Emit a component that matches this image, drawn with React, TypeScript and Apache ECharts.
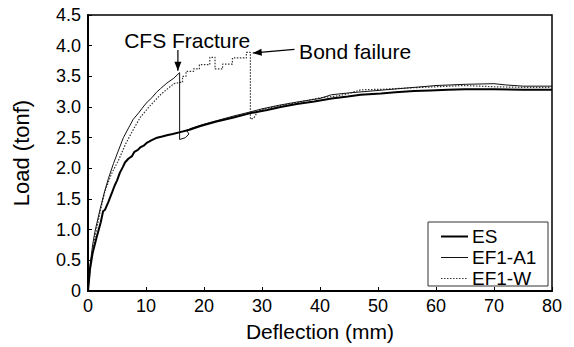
import React, { useEffect, useRef } from "react";
import * as echarts from "echarts";

// Deflection (mm), Load (tonf)
const esData: [number, number][] = [
  [0, 0], [0.35, 0.36], [0.8, 0.62], [1.5, 0.88], [2.2, 1.12], [2.6, 1.3], [2.9, 1.32], [3.5, 1.45],
  [4.2, 1.62], [4.6, 1.72], [5.0, 1.8], [5.5, 1.93], [6.0, 2.02], [6.4, 2.1], [7.0, 2.16],
  [7.6, 2.2], [8.0, 2.27], [8.6, 2.3], [9.0, 2.34], [9.6, 2.37], [10.2, 2.42], [11.0, 2.46],
  [11.9, 2.5], [12.8, 2.52], [13.6, 2.54], [14.6, 2.56], [15.9, 2.59], [17.5, 2.63],
  [19.4, 2.69], [22, 2.76], [25.1, 2.83], [28, 2.9], [30.9, 2.95], [33.2, 3.0], [36, 3.05],
  [39, 3.09], [42, 3.14], [44.8, 3.17], [47, 3.2], [50.5, 3.22], [53, 3.24], [56.2, 3.26],
  [59, 3.27], [62, 3.28], [65, 3.29], [70, 3.29], [75, 3.28], [80, 3.28],
];

const a1Data: [number, number][] = [
  [0, 0], [0.35, 0.42], [0.8, 0.75], [1.2, 0.97], [2.1, 1.34], [2.8, 1.6], [3.5, 1.83],
  [4.4, 2.08], [5.2, 2.28], [6.1, 2.5], [7.0, 2.66], [7.8, 2.8], [8.7, 2.9], [9.5, 3.0],
  [10.2, 3.08], [11.0, 3.15], [11.8, 3.24], [12.5, 3.3], [13.6, 3.39], [14.8, 3.47],
  [15.8, 3.56], [15.8, 2.47], [16.8, 2.5], [17.4, 2.56], [17.0, 2.62], [18.0, 2.66],
  [20, 2.72], [25, 2.85], [28, 2.92], [30, 2.97], [33, 3.03], [36, 3.08], [40, 3.14],
  [42, 3.2], [45, 3.23], [50, 3.27], [55, 3.31], [60, 3.35], [65, 3.37], [70, 3.38],
  [72, 3.36], [75, 3.34], [80, 3.34],
];

const wData: [number, number][] = [
  [0, 0], [0.4, 0.38], [1.2, 0.88], [2.0, 1.25], [2.9, 1.62], [4.0, 1.9], [5.2, 2.12],
  [6.5, 2.4], [7.5, 2.58], [9.0, 2.83], [10.5, 3.0], [11.5, 3.1], [12.5, 3.2], [13.5, 3.28],
  [14.8, 3.38], [15.8, 3.4], [16.3, 3.4], [16.3, 3.5], [16.9, 3.5], [16.9, 3.58],
  [18.2, 3.58], [18.2, 3.62], [19.2, 3.62], [19.2, 3.69], [21.0, 3.69], [21.0, 3.81],
  [21.9, 3.81], [21.9, 3.62], [23.2, 3.62], [23.2, 3.7], [24.9, 3.7], [24.9, 3.8],
  [27.3, 3.8], [27.3, 3.89], [28.0, 3.89], [28.0, 2.8], [28.6, 2.82], [29.2, 2.92],
  [30, 2.96], [33, 3.02], [36, 3.07], [40, 3.15], [43, 3.18], [45, 3.22], [47, 3.28],
  [51, 3.29], [55, 3.31], [60, 3.33], [65, 3.35], [70, 3.33], [75, 3.32], [80, 3.32],
];

const seriesNames = ["ES", "EF1-A1", "EF1-W"];
const xTicks = { min: 0, max: 80, interval: 10 };
const yTicks = { min: 0, max: 4.5, interval: 0.5 };

const FONT = "'Liberation Sans', Arial, Helvetica, sans-serif";

const seriesStyles = [
  { color: "#000", width: 2, dash: null as number[] | null },
  { color: "#111", width: 1, dash: null as number[] | null },
  { color: "#333", width: 1.2, dash: [1.5, 1.5] as number[] | null },
];

export default function App() {
  const ref = useRef<HTMLDivElement>(null);
  useEffect(() => {
    if (!ref.current) return;
    const chart = echarts.init(ref.current, null, { renderer: "svg" });
    const datas = [esData, a1Data, wData];
    const option: any = {
      animation: false,
      backgroundColor: "#fff",
      textStyle: { fontFamily: FONT, color: "#000" },
      grid: {
        left: 88, right: 22, top: 15, bottom: 55,
        show: true, borderColor: "#000", borderWidth: 1.5,
        backgroundColor: "transparent",
      },
      legend: { show: false },
      xAxis: {
        type: "value",
        ...xTicks,
        name: "Deflection (mm)",
        nameLocation: "middle",
        nameGap: 30,
        nameTextStyle: { fontSize: 21, color: "#000", fontFamily: FONT },
        axisLine: { show: true, lineStyle: { color: "#000", width: 2 } },
        axisTick: { show: true, inside: true, length: 4, lineStyle: { color: "#000" } },
        axisLabel: { fontSize: 18, color: "#000", margin: 6, fontFamily: FONT },
        splitLine: { show: false },
      },
      yAxis: {
        type: "value",
        ...yTicks,
        name: "Load (tonf)",
        nameLocation: "middle",
        nameGap: 56,
        nameTextStyle: { fontSize: 22, color: "#000", fontFamily: FONT },
        axisLine: { show: true, lineStyle: { color: "#000", width: 2 } },
        axisTick: { show: true, inside: true, length: 4, lineStyle: { color: "#000" } },
        axisLabel: {
          fontSize: 18, color: "#000", margin: 7, fontFamily: FONT,
          formatter: (v: number) => (v === 0 ? "0" : v.toFixed(1)),
        },
        splitLine: { show: false },
      },
      series: seriesNames.map((n, i) => ({
        name: n, type: "line", data: datas[i], showSymbol: false, symbol: "none",
        lineStyle: {
          color: seriesStyles[i].color, width: seriesStyles[i].width,
          type: seriesStyles[i].dash ? seriesStyles[i].dash : "solid",
        },
        itemStyle: { color: seriesStyles[i].color },
        z: 3 - i,
      })),
    };
    chart.setOption(option);

    const p = (x: number, y: number) => chart.convertToPixel({ gridIndex: 0 }, [x, y]) as number[];
    const arrowHead = (s: number[], e: number[], len = 9, half = 3.5) => {
      const dx = e[0] - s[0], dy = e[1] - s[1];
      const L = Math.sqrt(dx * dx + dy * dy);
      const ux = dx / L, uy = dy / L;
      const bx = e[0] - ux * len, by = e[1] - uy * len;
      return [[bx - uy * half, by + ux * half], [bx + uy * half, by - ux * half], [e[0], e[1]]];
    };
    const cfsS = p(15.5, 3.93), cfsE = p(15.5, 3.59);
    const bondS = p(35.6, 3.94), bondE = p(28.4, 3.88);
    const cfsLabel = p(17.1, 4.09);
    const bondLabel = p(36.4, 3.9);

    // legend box
    const lgX = 428, lgY = 222, lgW = 120, lgH = 64;
    const rowY = [236.5, 257.5, 278.5];
    const legendEls: any[] = [
      { type: "rect", shape: { x: lgX, y: lgY, width: lgW, height: lgH }, style: { fill: "#fff", stroke: "#333", lineWidth: 1 }, z: 100 },
    ];
    seriesNames.forEach((n, i) => {
      legendEls.push({
        type: "line", z: 101,
        shape: { x1: lgX + 13, y1: rowY[i], x2: lgX + 40, y2: rowY[i] },
        style: { stroke: seriesStyles[i].color, lineWidth: seriesStyles[i].width, lineDash: seriesStyles[i].dash || undefined },
      });
      legendEls.push({
        type: "text", z: 101, x: lgX + 44, y: rowY[i],
        style: { text: n, font: `19px ${FONT}`, fill: "#000", textAlign: "left", textVerticalAlign: "middle" },
      });
    });

    chart.setOption({
      graphic: [
        { type: "line", shape: { x1: cfsS[0], y1: cfsS[1], x2: cfsE[0], y2: cfsE[1] }, style: { stroke: "#000", lineWidth: 1.2 } },
        { type: "polygon", shape: { points: arrowHead(cfsS, cfsE) }, style: { fill: "#000" } },
        { type: "line", shape: { x1: bondS[0], y1: bondS[1], x2: bondE[0], y2: bondE[1] }, style: { stroke: "#000", lineWidth: 1.2 } },
        { type: "polygon", shape: { points: arrowHead(bondS, bondE) }, style: { fill: "#000" } },
        {
          type: "text", x: cfsLabel[0], y: cfsLabel[1],
          style: { text: "CFS Fracture", font: `21px ${FONT}`, fill: "#000", textAlign: "center", textVerticalAlign: "middle" },
        },
        {
          type: "text", x: bondLabel[0], y: bondLabel[1],
          style: { text: "Bond failure", font: `21px ${FONT}`, fill: "#000", textAlign: "left", textVerticalAlign: "middle" },
        },
        ...legendEls,
      ],
    });
    return () => chart.dispose();
  }, []);
  return <div ref={ref} style={{ position: "absolute", left: 0, top: 0, width: 574, height: 347 }} />;
}
